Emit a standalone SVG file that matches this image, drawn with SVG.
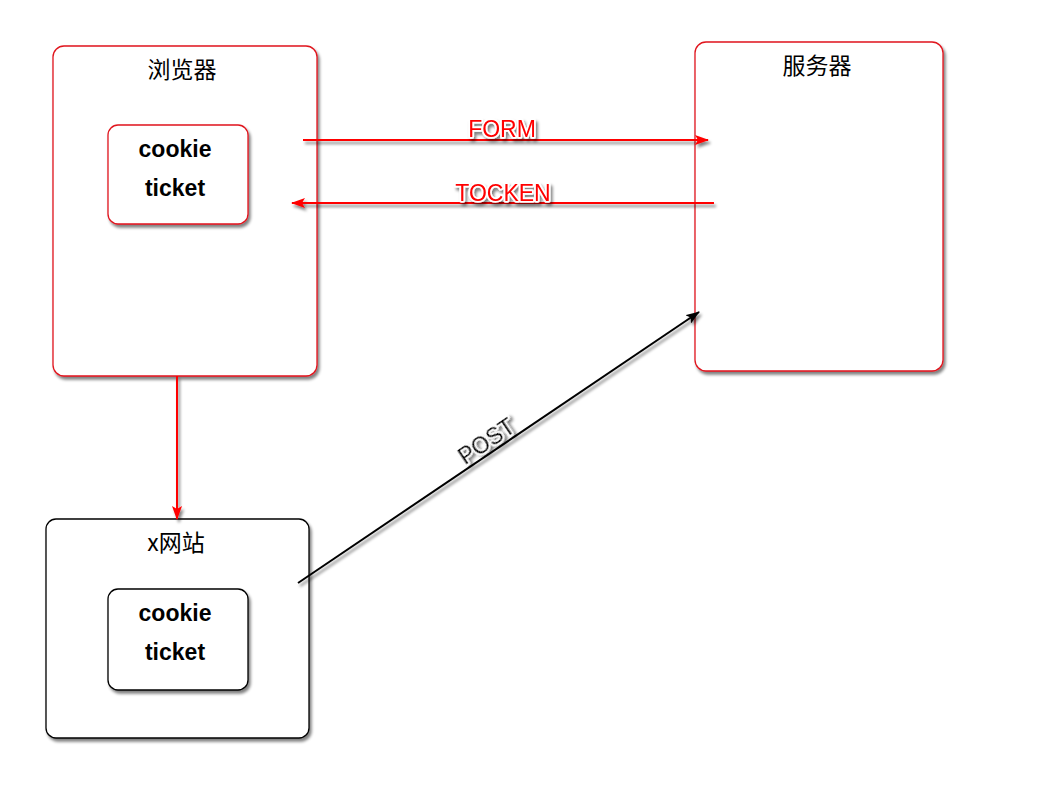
<svg xmlns="http://www.w3.org/2000/svg" width="1038" height="804" viewBox="0 0 1038 804">
<defs>
<filter id="sh" filterUnits="userSpaceOnUse" x="-1200" y="-1200" width="3400" height="3400">
<feGaussianBlur in="SourceAlpha" stdDeviation="1.5"/>
<feOffset dx="2" dy="3" result="b"/>
<feComponentTransfer><feFuncA type="linear" slope="0.5"/></feComponentTransfer>
<feMerge><feMergeNode/><feMergeNode in="SourceGraphic"/></feMerge>
</filter>
<marker id="ar" viewBox="0 0 14 10" refX="13" refY="5" markerWidth="14" markerHeight="10" markerUnits="userSpaceOnUse" orient="auto">
<path d="M0,0 L14,5 L0,10 L3,5 Z" fill="#ff0000"/>
</marker>
<marker id="ab" viewBox="0 0 14 10" refX="13" refY="5" markerWidth="14" markerHeight="10" markerUnits="userSpaceOnUse" orient="auto">
<path d="M0,0 L14,5 L0,10 L3,5 Z" fill="#000"/>
</marker>
<style>
.box{fill:#fff;stroke-width:1.3;filter:url(#sh)}
.red{stroke:#e0141e}
.blk{stroke:#000}
.title{font-family:"Noto Sans CJK SC","Liberation Sans",sans-serif;font-size:23px;fill:#000;text-anchor:middle}
.ck{font-family:"Liberation Sans",Arial,sans-serif;font-weight:bold;font-size:23px;fill:#000;text-anchor:middle}
.lbl{font-family:"Liberation Sans",Arial,sans-serif;font-size:23px;text-anchor:middle;stroke:#fff;stroke-width:3.5;paint-order:stroke;stroke-linejoin:round;filter:url(#sh)}
.rl{stroke:#ff0000;stroke-width:2;fill:none;filter:url(#sh)}
.bl{stroke:#000;stroke-width:2;fill:none;filter:url(#sh)}
</style>
</defs>
<rect width="1038" height="804" fill="#fff"/>
<g id="browser">
<rect class="box red" x="53" y="46" width="264" height="330" rx="11"/>
<text class="title" x="182" y="78">浏览器</text>
</g>
<g id="browser-cookie">
<rect class="box red" x="108" y="125" width="140" height="99" rx="10"/>
<text class="ck" x="175" y="157">cookie</text>
<text class="ck" x="175" y="196">ticket</text>
</g>
<g id="server">
<rect class="box red" x="695" y="42" width="248" height="329" rx="11"/>
<text class="title" x="817" y="74">服务器</text>
</g>
<g id="xsite">
<rect class="box blk" x="46" y="519" width="263" height="219" rx="10"/>
<text class="title" x="176" y="551">x网站</text>
</g>
<g id="xsite-cookie">
<rect class="box blk" x="108" y="589" width="140" height="101" rx="10"/>
<text class="ck" x="175" y="621">cookie</text>
<text class="ck" x="175" y="660">ticket</text>
</g>
<g id="connectors">
<line class="rl" x1="303" y1="140" x2="708" y2="140" marker-end="url(#ar)"/>
<line class="rl" x1="714" y1="203" x2="292" y2="203" marker-end="url(#ar)"/>
<line class="rl" x1="177" y1="376" x2="177" y2="519" marker-end="url(#ar)"/>
<line class="bl" x1="298" y1="583" x2="699" y2="312" marker-end="url(#ab)"/>
<text class="lbl" x="502" y="137" fill="#ff0000">FORM</text>
<text class="lbl" x="503" y="201" fill="#ff0000">TOCKEN</text>
<text class="lbl" x="0" y="0" fill="#000" transform="translate(491,448) rotate(-34)">POST</text>
</g>
</svg>
